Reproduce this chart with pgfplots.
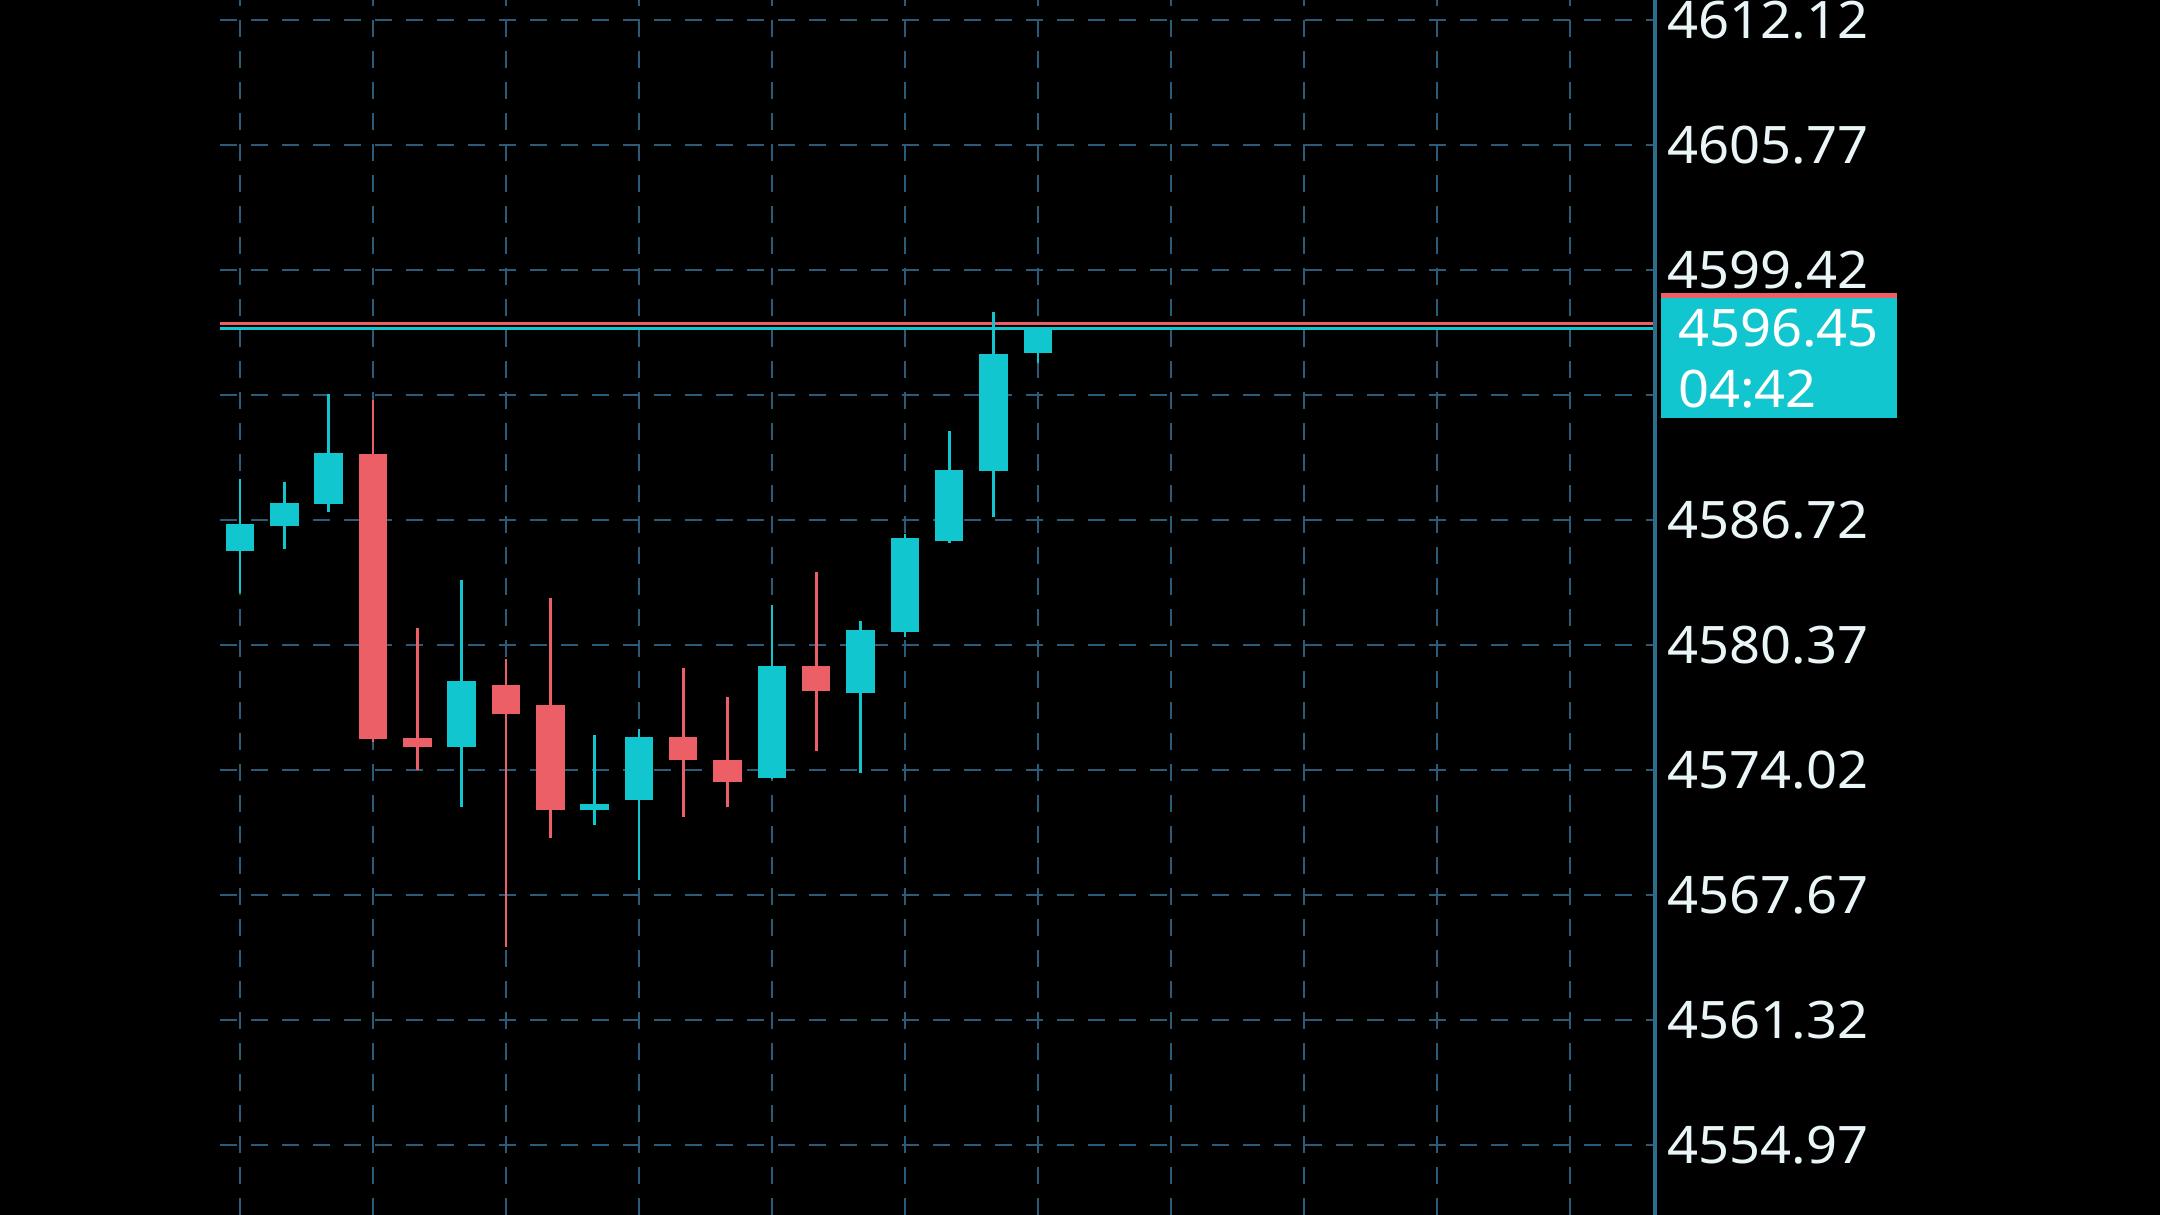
\documentclass[border=0pt]{standalone}
\usepackage{pgfplots}
\pgfplotsset{compat=1.18}
\usepackage{pgfplotstable}
\usepackage{fontspec}
\setmainfont{Noto Sans}
\newfontfamily\labfont[FakeStretch=1.05]{Noto Sans}
\definecolor{upc}{HTML}{12C6D0}
\definecolor{dnc}{HTML}{EC5F66}
\definecolor{gridc}{HTML}{2B5B78}
\definecolor{axc}{HTML}{2A6E8C}
\definecolor{txt}{HTML}{EAF5F8}

% bullish candles: index, open, high, low, close
\pgfplotstableread{
x o h l c
0 4585.12 4588.80 4583.01 4586.53
1 4586.42 4588.64 4585.24 4587.60
2 4587.55 4593.12 4587.15 4590.10
5 4575.18 4583.65 4572.16 4578.54
8 4572.00 4575.79 4571.21 4572.28
9 4572.50 4576.09 4568.42 4575.70
12 4573.62 4582.41 4573.55 4579.29
14 4577.93 4581.57 4573.86 4581.14
15 4581.04 4585.99 4580.80 4585.79
16 4585.63 4591.22 4585.55 4589.25
17 4589.21 4597.29 4586.88 4595.14
18 4595.18 4596.45 4594.68 4596.45
}\up
% bearish candles
\pgfplotstableread{
x o h l c
3 4590.05 4592.82 4575.45 4575.59
4 4575.64 4581.24 4574.00 4575.18
6 4578.36 4579.65 4565.03 4576.84
7 4577.34 4582.74 4570.57 4572.00
10 4575.70 4579.20 4571.62 4574.55
11 4574.51 4577.74 4572.15 4573.42
13 4579.29 4584.08 4574.97 4578.05
}\dn

\begin{document}
\begin{tikzpicture}
\fill[black] (-44pt,0pt) rectangle (388pt,243pt);
\begin{axis}[
  scale only axis, width=287pt, height=243pt,
  at={(0pt,0pt)}, anchor=south west,
  xmin=-0.451, xmax=31.92, ymin=4551.414, ymax=4613.136,
  axis line style={draw=none},
  xtick={0,3,...,30}, xmajorticks=false, xmajorgrids=true,
  ytick={4554.97,4561.32,4567.67,4574.02,4580.37,4586.72,4593.07,4599.42,4605.77,4612.12},
  yticklabels={4554.97,4561.32,4567.67,4574.02,4580.37,4586.72,,4599.42,4605.77,4612.12},
  ytick pos=right, yticklabel pos=right,
  major tick length=0pt,
  yticklabel style={anchor=west, inner sep=0pt, xshift=2.3pt,
    font=\labfont\fontsize{10.34pt}{12pt}\selectfont, text=txt},
  ymajorgrids=true,
  major grid style={gridc, line width=0.4pt, dash pattern=on 3.4pt off 2.8pt},
]
% price lines
\addplot[dnc, line width=0.6pt, forget plot] coordinates {(-1,4596.68) (33,4596.68)};
\addplot[upc, line width=0.6pt, forget plot] coordinates {(-1,4596.45) (33,4596.45)};
% wicks
\addplot[draw=none, forget plot, error bars/.cd, y dir=plus, y explicit, error mark=none,
  error bar style={draw=upc, line width=0.55pt}]
  table[x=x, y=l, y error plus expr=\thisrow{h}-\thisrow{l}] {\up};
\addplot[draw=none, forget plot, error bars/.cd, y dir=plus, y explicit, error mark=none,
  error bar style={draw=dnc, line width=0.55pt}]
  table[x=x, y=l, y error plus expr=\thisrow{h}-\thisrow{l}] {\dn};
% bodies
\addplot[draw=none, forget plot, error bars/.cd, y dir=plus, y explicit, error mark=none,
  error bar style={draw=upc, line width=5.68pt}]
  table[x=x, y=o, y error plus expr=\thisrow{c}-\thisrow{o}] {\up};
\addplot[draw=none, forget plot, error bars/.cd, y dir=plus, y explicit, error mark=none,
  error bar style={draw=dnc, line width=5.68pt}]
  table[x=x, y=c, y error plus expr=\thisrow{o}-\thisrow{c}] {\dn};
\end{axis}
\draw[axc, line width=0.8pt] (287pt,0pt) -- (287pt,243pt);
\fill[upc] (288.2pt,159.4pt) rectangle (335.4pt,184.4pt);
\fill[dnc] (288.2pt,183.4pt) rectangle (335.4pt,184.4pt);
\node[anchor=west, inner sep=0pt, text=white, font=\labfont\fontsize{10.34pt}{12pt}\selectfont] at (291.4pt,177.3pt) {4596.45};
\node[anchor=west, inner sep=0pt, text=white, font=\labfont\fontsize{10.34pt}{12pt}\selectfont] at (291.4pt,165.2pt) {04:42};
\pgfresetboundingbox
\useasboundingbox (-44pt,0pt) rectangle (388pt,243pt);
\end{tikzpicture}
\end{document}
